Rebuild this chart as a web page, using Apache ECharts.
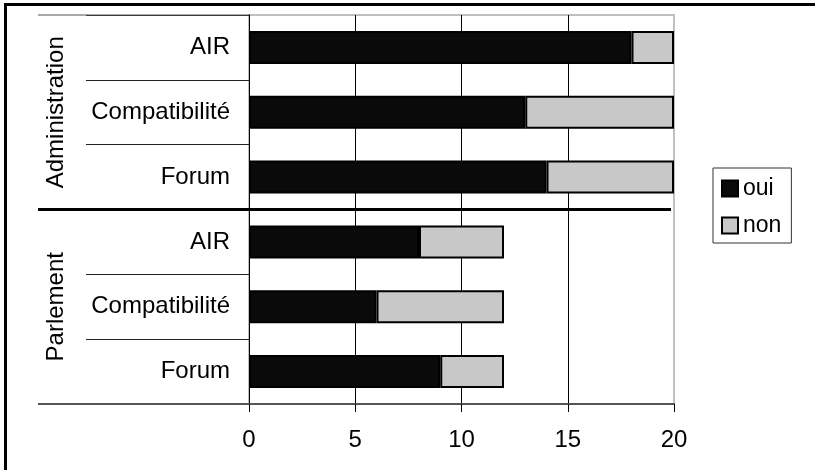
<!DOCTYPE html>
<html><head><meta charset="utf-8">
<script src="https://cdn.jsdelivr.net/npm/echarts@6/dist/echarts.min.js"></script>
<style>html,body{margin:0;padding:0;background:#fff}#c{width:815px;height:470px}</style>
</head><body><div id="c"></div>
<script>
// ---- data ----
const groups = ['Administration', 'Parlement'];
const subCategories = ['AIR', 'Compatibilité', 'Forum'];
const ouiValues = [18, 13, 14, 8, 6, 9];
const nonValues = [2, 7, 6, 4, 6, 3];
const seriesNames = ['oui', 'non'];
const xMin = 0, xMax = 20, xInterval = 5;

// unique keys for the category axis (group|sub)
const keys = [];
groups.forEach(g => subCategories.forEach(s => keys.push(g + '|' + s)));

const FONT = 'Liberation Sans, Arial, sans-serif';
const chart = echarts.init(document.getElementById('c'), null, {renderer: 'canvas'});

const option = {
  animation: false,
  backgroundColor: '#fff',
  textStyle: {fontFamily: FONT},
  grid: {left: 249, top: 15, width: 425, height: 389, show: true,
         borderColor: '#c0c0c0', borderWidth: 2, backgroundColor: 'transparent'},
  legend: {
    orient: 'vertical', left: 713, top: 168,
    data: seriesNames, icon: 'rect', itemWidth: 16, itemHeight: 16, itemGap: 14,
    padding: [9, 10, 6, 8], borderColor: '#333', borderWidth: 1,
    textStyle: {fontSize: 23, color: '#000', fontFamily: FONT}
  },
  xAxis: {
    type: 'value', min: xMin, max: xMax, interval: xInterval,
    axisLine: {show: true, lineStyle: {color: '#555', width: 2}},
    axisTick: {show: true, length: 8, lineStyle: {color: '#000', width: 1}},
    axisLabel: {fontSize: 24, color: '#000', margin: 24, fontFamily: FONT},
    splitLine: {show: true, showMinLine: false, showMaxLine: false, lineStyle: {color: '#000', width: 1}}
  },
  yAxis: {
    type: 'category', data: keys, inverse: true,
    axisLine: {show: true, lineStyle: {color: '#000', width: 1}},
    axisTick: {show: true, length: 163, lineStyle: {color: '#222', width: 1}},
    axisLabel: {fontSize: 24, color: '#000', margin: 19, fontFamily: FONT,
                formatter: v => v.split('|')[1]},
    splitLine: {show: false}
  },
  series: [
    {name: seriesNames[0], type: 'bar', stack: 'total', barWidth: '51%', data: ouiValues,
     itemStyle: {color: '#0a0a0a', borderColor: '#000', borderWidth: 2}, silent: true},
    {name: seriesNames[1], type: 'bar', stack: 'total', barWidth: '51%', data: nonValues,
     itemStyle: {color: '#c8c8c8', borderColor: '#000', borderWidth: 2}, silent: true}
  ]
};
chart.setOption(option);

// ---- multi-level category decorations, positioned from the axes ----
const yc0 = chart.convertToPixel({yAxisIndex: 0}, keys[0]);
const yc1 = chart.convertToPixel({yAxisIndex: 0}, keys[1]);
const band = yc1 - yc0;
const plotTop = yc0 - band / 2;
const x0 = chart.convertToPixel({xAxisIndex: 0}, xMin);
const xEnd = chart.convertToPixel({xAxisIndex: 0}, xMax);
const groupLeft = 38;
const n = subCategories.length;
const els = [];
// outer frame (top & left)
els.push({type: 'line', shape: {x1: 4, y1: 4.5, x2: 815, y2: 4.5}, style: {stroke: '#000', lineWidth: 3}, z: 100});
els.push({type: 'line', shape: {x1: 5.5, y1: 3, x2: 5.5, y2: 470}, style: {stroke: '#000', lineWidth: 3}, z: 100});
groups.forEach((g, gi) => {
  const yTop = plotTop + gi * n * band;
  const yBot = yTop + n * band;
  els.push({type: 'text', x: 56, y: (yTop + yBot) / 2, rotation: Math.PI / 2,
            style: {text: g, fontSize: 24, fontFamily: FONT, fill: '#000', align: 'center', verticalAlign: 'middle'}, z: 100});
});
const bTop = plotTop, bMid = plotTop + n * band, bBot = plotTop + 2 * n * band;
els.push({type: 'line', shape: {x1: groupLeft, y1: bTop, x2: x0, y2: bTop}, style: {stroke: '#555', lineWidth: 1}, z: 50});
els.push({type: 'line', shape: {x1: groupLeft, y1: bBot, x2: x0, y2: bBot}, style: {stroke: '#555', lineWidth: 2}, z: 50});
els.push({type: 'line', shape: {x1: groupLeft, y1: bMid, x2: xEnd - 3, y2: bMid}, style: {stroke: '#000', lineWidth: 3}, z: 50});
chart.setOption({graphic: {elements: els}});
</script>
</body></html>
